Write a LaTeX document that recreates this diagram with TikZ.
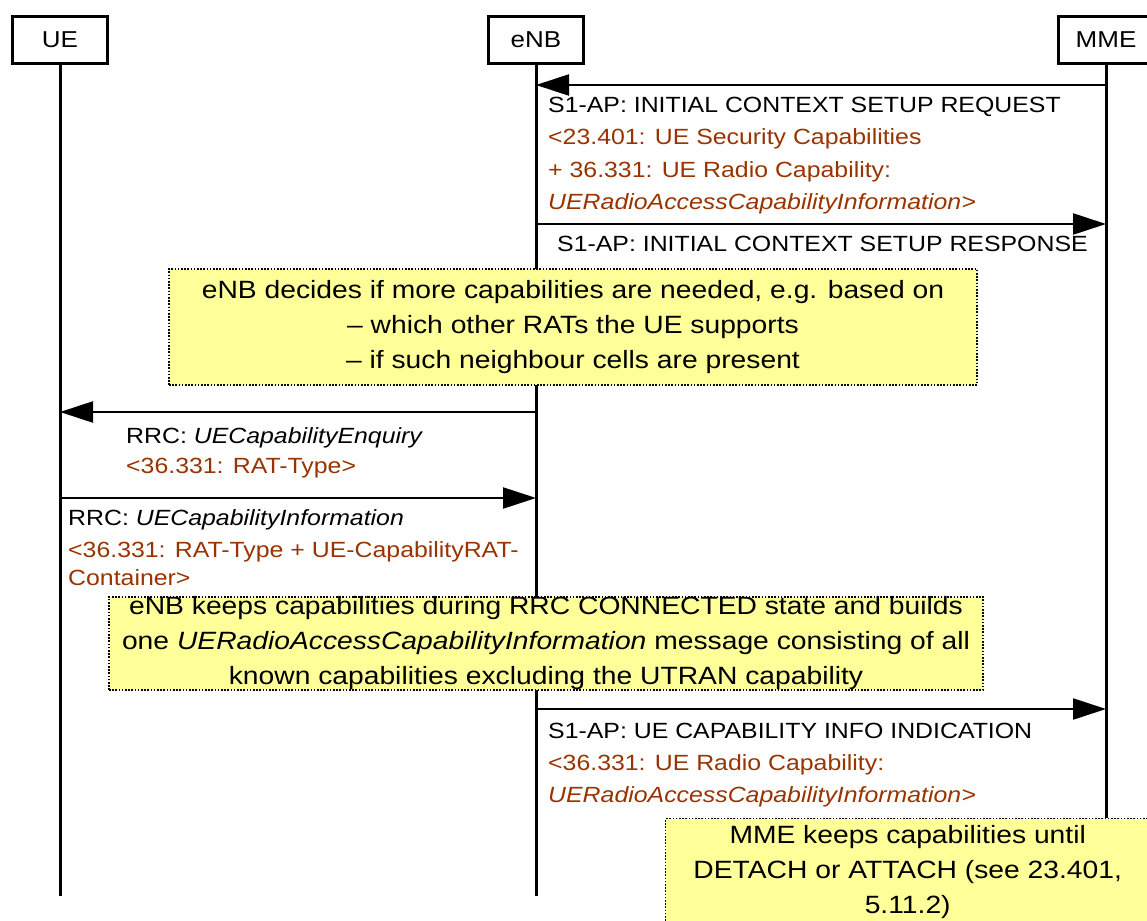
\documentclass[tikz,border=0pt]{standalone}
\usepackage{fontspec}
\setmainfont[FakeStretch=1.13]{Liberation Sans}
\usetikzlibrary{arrows.meta}
\definecolor{brn}{HTML}{993300}
\definecolor{noteyel}{HTML}{FFFF99}
\begin{document}
\begin{tikzpicture}[x=1pt,y=-1pt,
  actor/.style={draw,line width=3.5pt,minimum width=95pt,minimum height=47pt,inner sep=0pt,font=\fontsize{23}{26}\selectfont},
  life/.style={line width=3pt},
  msg/.style={line width=2.2pt,-{Triangle[length=33pt,width=21pt]}},
  lbl/.style={anchor=base west,inner sep=0pt,font=\fontsize{22}{26}\selectfont},
  brown/.style={lbl,text=brn},
  rrc/.style={anchor=base west,inner sep=0pt,font=\fontsize{22}{24}\selectfont},
  rrcbrown/.style={rrc,text=brn},
  note/.style={draw,line width=1.4pt,dash pattern=on 1.6pt off 1.6pt,fill=noteyel,align=center,inner sep=0pt,font=\fontsize{25}{35}\selectfont}
]
\useasboundingbox (0,0) rectangle (1147,920);

% actors
\node[actor] (ue)  at (60,40)   {UE};
\node[actor] (enb) at (536,40)  {eNB};
\node[actor] (mme) at (1106,40) {MME};

% lifeline ends
\coordinate (ueend)  at (60,896);
\coordinate (enbend) at (536,896);
\coordinate (mmeend) at (1106,818);

\draw[life] (ue.south)  -- (ueend);
\draw[life] (enb.south) -- (enbend);
\draw[life] (mme.south) -- (mmeend);

% message 1: MME -> eNB
\coordinate (m1s) at (1106,85);
\coordinate (m1e) at (536,85);
\draw[msg] (m1s) -- (m1e);
\node[lbl]   (l1a) at (548,113) {S1-AP: INITIAL CONTEXT SETUP REQUEST};
\node[brown] (l1b) at (548,145) {<23.401: UE Security Capabilities};
\node[brown] (l1c) at (548,177) {+ 36.331: UE Radio Capability:};
\node[brown] (l1d) at (548,209) {\itshape UERadioAccessCapabilityInformation>};

% message 2: eNB -> MME
\coordinate (m2s) at (536,224);
\coordinate (m2e) at (1106,224);
\draw[msg] (m2s) -- (m2e);
\node[lbl] (l2a) at (557,251) {S1-AP: INITIAL CONTEXT SETUP RESPONSE};

% note 1
\node[note,minimum width=808pt,minimum height=116pt] (n1) at (573,327)
  {eNB decides if more capabilities are needed, e.g. based on\\
   -- which other RATs the UE supports\\
   -- if such neighbour cells are present};

% message 3: eNB -> UE
\coordinate (m3s) at (536,412);
\coordinate (m3e) at (60,412);
\draw[msg] (m3s) -- (m3e);
\node[rrc]      (l3a) at (126,443) {RRC: \itshape UECapabilityEnquiry};
\node[rrcbrown] (l3b) at (126,473) {<36.331: RAT-Type>};

% message 4: UE -> eNB
\coordinate (m4s) at (60,498);
\coordinate (m4e) at (536,498);
\draw[msg] (m4s) -- (m4e);
\node[rrc]      (l4a) at (68,525) {RRC: \itshape UECapabilityInformation};
\node[rrcbrown] (l4b) at (68,557) {<36.331: RAT-Type + UE-CapabilityRAT-};
\node[rrcbrown] (l4c) at (68,585) {Container>};

% note 2
\node[note,minimum width=874pt,minimum height=93pt] (n2) at (546,643.5)
  {eNB keeps capabilities during RRC CONNECTED state and builds\\
   one \textit{UERadioAccessCapabilityInformation} message consisting of all\\
   known capabilities excluding the UTRAN capability};

% message 5: eNB -> MME
\coordinate (m5s) at (536,709);
\coordinate (m5e) at (1106,709);
\draw[msg] (m5s) -- (m5e);
\node[lbl]   (l5a) at (548,738) {S1-AP: UE CAPABILITY INFO INDICATION};
\node[brown] (l5b) at (548,770) {<36.331: UE Radio Capability:};
\node[brown] (l5c) at (548,802) {\itshape UERadioAccessCapabilityInformation>};

% note 3
\node[note,minimum width=484pt,minimum height=106pt,anchor=north west] (n3) at (665,818)
  {MME keeps capabilities until\\
   DETACH or ATTACH (see 23.401,\\
   5.11.2)};
\end{tikzpicture}
\end{document}
